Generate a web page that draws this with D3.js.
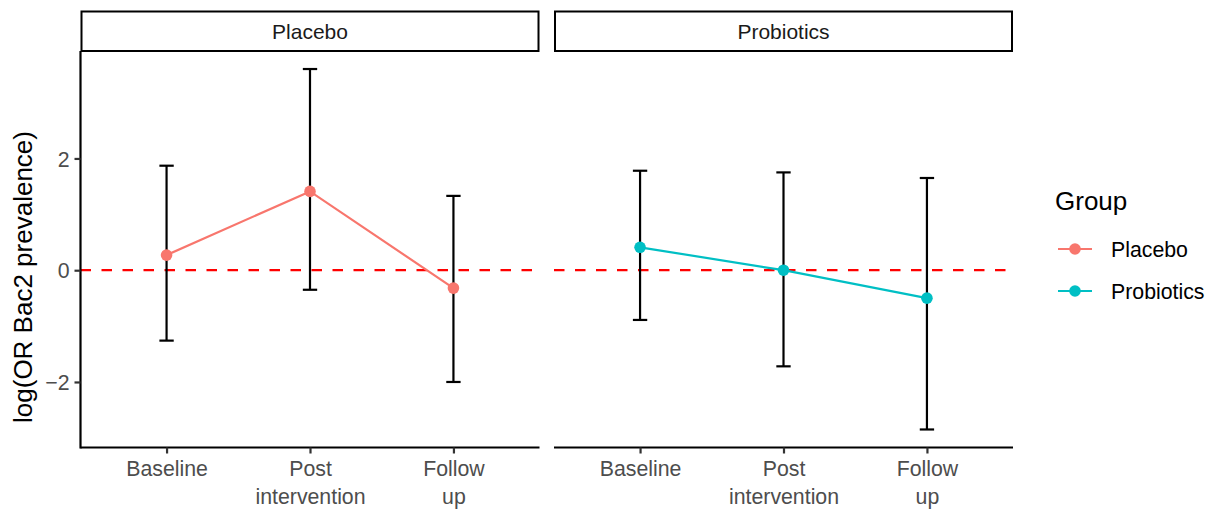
<!DOCTYPE html>
<html>
<head>
<meta charset="utf-8">
<script src="https://cdn.jsdelivr.net/npm/d3@7"></script>
<style>
  body { margin: 0; background: #fff; }
  svg { display: block; font-family: "Liberation Sans", Arial, Helvetica, sans-serif; }
</style>
</head>
<body>
<svg id="chart" width="1216" height="512"></svg>
<script>
// timepoints (x categories) and their wrapped tick labels
var timepoints = ['Baseline', 'Post intervention', 'Follow up'];
var tickLabels = [['Baseline'], ['Post', 'intervention'], ['Follow', 'up']];
var groups = ['Placebo', 'Probiotics'];
var groupColors = ['#F8766D', '#00BFC4'];

// log odds ratio estimates and 95% CI
var placeboEst = [0.27, 1.41, -0.32];
var placeboLow = [-1.26, -0.35, -2.00];
var placeboHigh = [1.87, 3.60, 1.33];
var probioticsEst = [0.41, 0.00, -0.50];
var probioticsLow = [-0.89, -1.72, -2.85];
var probioticsHigh = [1.78, 1.75, 1.65];

var yTicks = [-2, 0, 2];
var refLine = 0;

var series = [
  {group: groups[0], est: placeboEst, low: placeboLow, high: placeboHigh},
  {group: groups[1], est: probioticsEst, low: probioticsLow, high: probioticsHigh}
];

var svg = d3.select('#chart');

var panelLeft = [80.5, 554],
    panelWidth = 459,
    panelTop = 51,
    panelBottom = 447.5,
    stripTop = 11.5,
    tickColor = '#4D4D4D';

// y scale with ggplot-style 5% expansion of the data range
var allVals = d3.merge([placeboLow, placeboHigh, probioticsLow, probioticsHigh]);
var yMin = d3.min(allVals), yMax = d3.max(allVals), pad = (yMax - yMin) * 0.05;
var y = d3.scaleLinear()
  .domain([yMin - pad, yMax + pad])
  .range([panelBottom, panelTop]);

series.forEach(function (s, i) {
  var x0 = panelLeft[i];
  var x = d3.scalePoint()
    .domain(timepoints)
    .range([x0, x0 + panelWidth])
    .padding(0.6);

  var g = svg.append('g');

  // strip
  g.append('rect')
    .attr('x', x0 + 1)
    .attr('y', stripTop)
    .attr('width', panelWidth - 2)
    .attr('height', panelTop - stripTop)
    .attr('fill', '#fff')
    .attr('stroke', '#000')
    .attr('stroke-width', 2);
  g.append('text')
    .attr('x', x0 + panelWidth / 2)
    .attr('y', 38.5)
    .attr('text-anchor', 'middle')
    .attr('font-size', 21)
    .attr('fill', '#1A1A1A')
    .text(s.group);

  // reference line at 0
  g.append('line')
    .attr('x1', x0)
    .attr('x2', x0 + panelWidth)
    .attr('y1', y(refLine))
    .attr('y2', y(refLine))
    .attr('stroke', '#FF0000')
    .attr('stroke-width', 2.2)
    .attr('stroke-dasharray', '10.5,10.5');

  var rows = timepoints.map(function (t, j) {
    return {t: t, est: s.est[j], low: s.low[j], high: s.high[j]};
  });

  // error bars
  var capHalf = x.step() * 0.05;
  var eb = g.selectAll('.eb').data(rows).enter().append('g')
    .attr('stroke', '#000')
    .attr('stroke-width', 2.2);
  eb.append('line')
    .attr('x1', function (d) { return x(d.t); })
    .attr('x2', function (d) { return x(d.t); })
    .attr('y1', function (d) { return y(d.low); })
    .attr('y2', function (d) { return y(d.high); });
  eb.append('line')
    .attr('x1', function (d) { return x(d.t) - capHalf; })
    .attr('x2', function (d) { return x(d.t) + capHalf; })
    .attr('y1', function (d) { return y(d.low); })
    .attr('y2', function (d) { return y(d.low); });
  eb.append('line')
    .attr('x1', function (d) { return x(d.t) - capHalf; })
    .attr('x2', function (d) { return x(d.t) + capHalf; })
    .attr('y1', function (d) { return y(d.high); })
    .attr('y2', function (d) { return y(d.high); });

  // estimate line + points
  g.append('path')
    .datum(rows)
    .attr('fill', 'none')
    .attr('stroke', groupColors[i])
    .attr('stroke-width', 2.2)
    .attr('d', d3.line()
      .x(function (d) { return x(d.t); })
      .y(function (d) { return y(d.est); }));
  g.selectAll('.pt').data(rows).enter().append('circle')
    .attr('cx', function (d) { return x(d.t); })
    .attr('cy', function (d) { return y(d.est); })
    .attr('r', 5.8)
    .attr('fill', groupColors[i]);

  // x axis
  var xAxis = g.append('g')
    .attr('transform', 'translate(0,' + panelBottom + ')')
    .call(d3.axisBottom(x).tickSize(6).tickSizeOuter(0).tickFormat(''));
  xAxis.select('.domain')
    .attr('d', 'M' + x0 + ',0H' + (x0 + panelWidth))
    .attr('stroke', '#000')
    .attr('stroke-width', 2.2);
  xAxis.selectAll('.tick line').attr('stroke', '#333').attr('stroke-width', 2.2);
  xAxis.selectAll('.tick').each(function (d, j) {
    var t = d3.select(this).append('text')
      .attr('fill', tickColor)
      .attr('font-size', 21.3)
      .attr('text-anchor', 'middle')
      .attr('y', 28.5);
    tickLabels[j].forEach(function (line, k) {
      t.append('tspan')
        .attr('x', 0)
        .attr('dy', k === 0 ? 0 : 27.5)
        .text(line);
    });
  });

  // y axis only on the first panel
  if (i === 0) {
    var yAxis = g.append('g')
      .attr('transform', 'translate(' + x0 + ',0)')
      .call(d3.axisLeft(y).tickValues(yTicks).tickSize(6).tickSizeOuter(0)
        .tickFormat(function (v) { return v < 0 ? '\u2212' + Math.abs(v) : v; }));
    yAxis.select('.domain')
      .attr('d', 'M0,' + panelTop + 'V' + (panelBottom + 1))
      .attr('stroke', '#000')
      .attr('stroke-width', 2.2);
    yAxis.selectAll('.tick line').attr('stroke', '#333').attr('stroke-width', 2.2);
    yAxis.selectAll('.tick text')
      .attr('fill', tickColor)
      .attr('font-size', 21.3)
      .attr('font-family', null)
      .attr('x', -11)
      .attr('dy', '0.36em');
  }
});

// y axis title
svg.append('text')
  .attr('transform', 'translate(32,277) rotate(-90)')
  .attr('text-anchor', 'middle')
  .attr('font-size', 26)
  .attr('fill', '#000')
  .text('log(OR Bac2 prevalence)');

// legend
var legend = svg.append('g').attr('transform', 'translate(1055,0)');
legend.append('text')
  .attr('x', 0)
  .attr('y', 210)
  .attr('font-size', 26)
  .attr('fill', '#000')
  .text('Group');
var keyY = d3.scalePoint().domain(groups).range([249, 291]);
var items = legend.selectAll('.item').data(groups).enter().append('g')
  .attr('transform', function (d) { return 'translate(0,' + keyY(d) + ')'; });
items.append('line')
  .attr('x1', 3).attr('x2', 37)
  .attr('stroke', function (d, i) { return groupColors[i]; })
  .attr('stroke-width', 2.2);
items.append('circle')
  .attr('cx', 20).attr('r', 5.8)
  .attr('fill', function (d, i) { return groupColors[i]; });
items.append('text')
  .attr('x', 56)
  .attr('y', 7.5)
  .attr('font-size', 21.3)
  .attr('fill', '#000')
  .text(function (d) { return d; });
</script>
</body>
</html>
